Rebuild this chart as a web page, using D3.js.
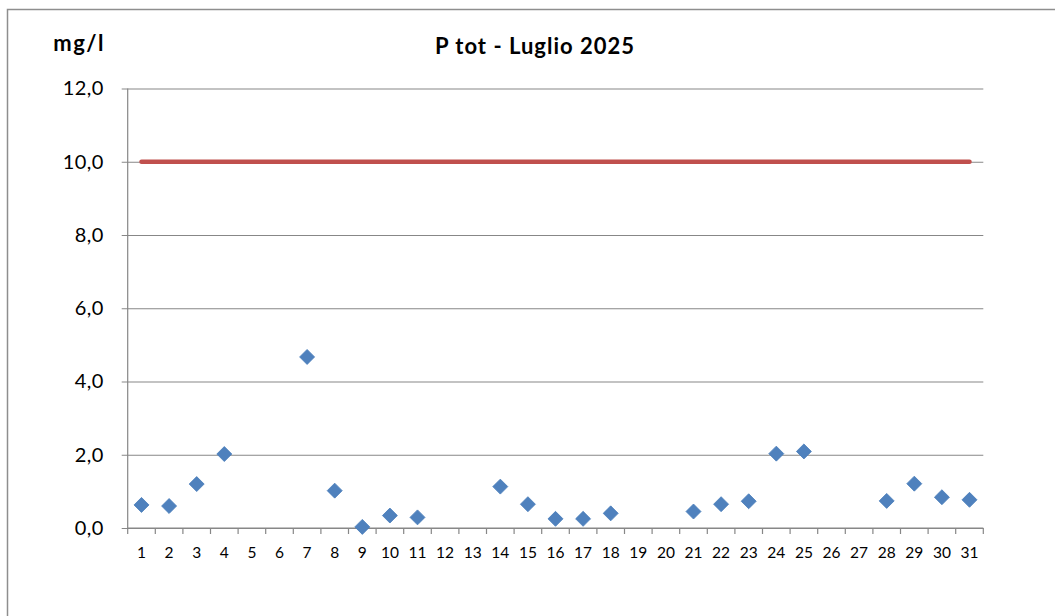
<!DOCTYPE html>
<html>
<head>
<meta charset="utf-8">
<script src="https://d3js.org/d3.v7.min.js"></script>
<style>
  html, body { margin: 0; padding: 0; background: #fff; }
  svg { display: block; font-family: Lato, "Open Sans", sans-serif; }
</style>
</head>
<body>
<svg id="chart" width="1055" height="616"></svg>
<script>
// Daily total phosphorus readings, July 2025 (mg/l); null = no sample
const days = d3.range(1, 32);
const pTot = [
  0.63, 0.60, 1.20, 2.02, null, null, 4.67, 1.02, 0.03, 0.34,
  0.29, null, null, 1.13, 0.65, 0.25, 0.25, 0.40, null, null,
  0.45, 0.65, 0.73, 2.03, 2.09, null, null, 0.74, 1.21, 0.84,
  0.77
];
const limit = 10;
const yTicks = [0, 2, 4, 6, 8, 10, 12];
const title = "P tot - Luglio 2025";
const unit = "mg/l";

const svg = d3.select("#chart");
const plot = { left: 127.7, right: 983.3, top: 88.5, bottom: 528 };

const x = d3.scaleBand().domain(days).range([plot.left, plot.right]).padding(0);
const y = d3.scaleLinear().domain([0, 12]).range([plot.bottom, plot.top]);
const fmt = v => d3.format(".1f")(v).replace(".", ",");

// outer chart frame
svg.append("rect")
  .attr("x", 7.5).attr("y", 9.5)
  .attr("width", 1100).attr("height", 700)
  .attr("fill", "none").attr("stroke", "#8e8e8e").attr("stroke-width", 1.5);

// title and unit
svg.append("text")
  .attr("x", 535).attr("y", 54)
  .attr("text-anchor", "middle")
  .attr("font-weight", "bold").attr("font-size", 22)
  .attr("letter-spacing", 1)
  .attr("fill", "#000")
  .text(title);
svg.append("text")
  .attr("x", 105).attr("y", 51)
  .attr("text-anchor", "end")
  .attr("font-weight", "bold").attr("font-size", 22)
  .attr("letter-spacing", 1.5)
  .attr("fill", "#000")
  .text(unit);

// y axis with horizontal gridlines
const yAxis = svg.append("g")
  .attr("transform", `translate(${plot.left},0)`)
  .call(d3.axisLeft(y).tickValues(yTicks).tickFormat(fmt)
    .tickSize(-(plot.right - plot.left)).tickPadding(24));
yAxis.select(".domain").remove();
yAxis.selectAll(".tick line")
  .attr("x1", -6)
  .attr("stroke", "#878787").attr("stroke-width", 1.2);
yAxis.selectAll(".tick text")
  .attr("font-size", 20).attr("fill", "#000")
  .attr("letter-spacing", 0.4)
  .attr("font-family", "Lato, sans-serif");

// vertical axis line
svg.append("line")
  .attr("x1", plot.left).attr("x2", plot.left)
  .attr("y1", plot.top).attr("y2", plot.bottom)
  .attr("stroke", "#878787").attr("stroke-width", 1.2);

// x axis: tick marks on category boundaries, labels centred
const xAxis = svg.append("g")
  .attr("transform", `translate(0,${plot.bottom})`);
xAxis.append("line")
  .attr("x1", plot.left).attr("x2", plot.right)
  .attr("stroke", "#878787").attr("stroke-width", 1.2);
xAxis.selectAll("line.tick")
  .data(days.concat([32]))
  .join("line")
  .attr("class", "tick")
  .attr("x1", d => d <= 31 ? x(d) : plot.right)
  .attr("x2", d => d <= 31 ? x(d) : plot.right)
  .attr("y1", 0).attr("y2", 6)
  .attr("stroke", "#878787").attr("stroke-width", 1.2);
xAxis.selectAll("text")
  .data(days)
  .join("text")
  .attr("x", d => x(d) + x.bandwidth() / 2)
  .attr("y", 30)
  .attr("text-anchor", "middle")
  .attr("font-size", 15.5).attr("fill", "#000")
  .text(d => d);

// limit line
svg.append("path")
  .datum([days[0], days[days.length - 1]])
  .attr("d", d3.line()
    .x(d => x(d) + x.bandwidth() / 2)
    .y(() => y(limit)))
  .attr("fill", "none")
  .attr("stroke", "#c0504d").attr("stroke-width", 4.5)
  .attr("stroke-linecap", "round");

// daily markers (diamonds)
const diamond = d3.symbol().type(d3.symbolSquare).size(112);
svg.append("g")
  .selectAll("path")
  .data(days.map((d, i) => ({ day: d, v: pTot[i] })).filter(d => d.v !== null))
  .join("path")
  .attr("d", diamond)
  .attr("transform", d => `translate(${x(d.day) + x.bandwidth() / 2},${y(d.v)}) rotate(45)`)
  .attr("fill", "#4f81bd")
  .attr("stroke", "#4a7ebb").attr("stroke-width", 0.8);
</script>
</body>
</html>
